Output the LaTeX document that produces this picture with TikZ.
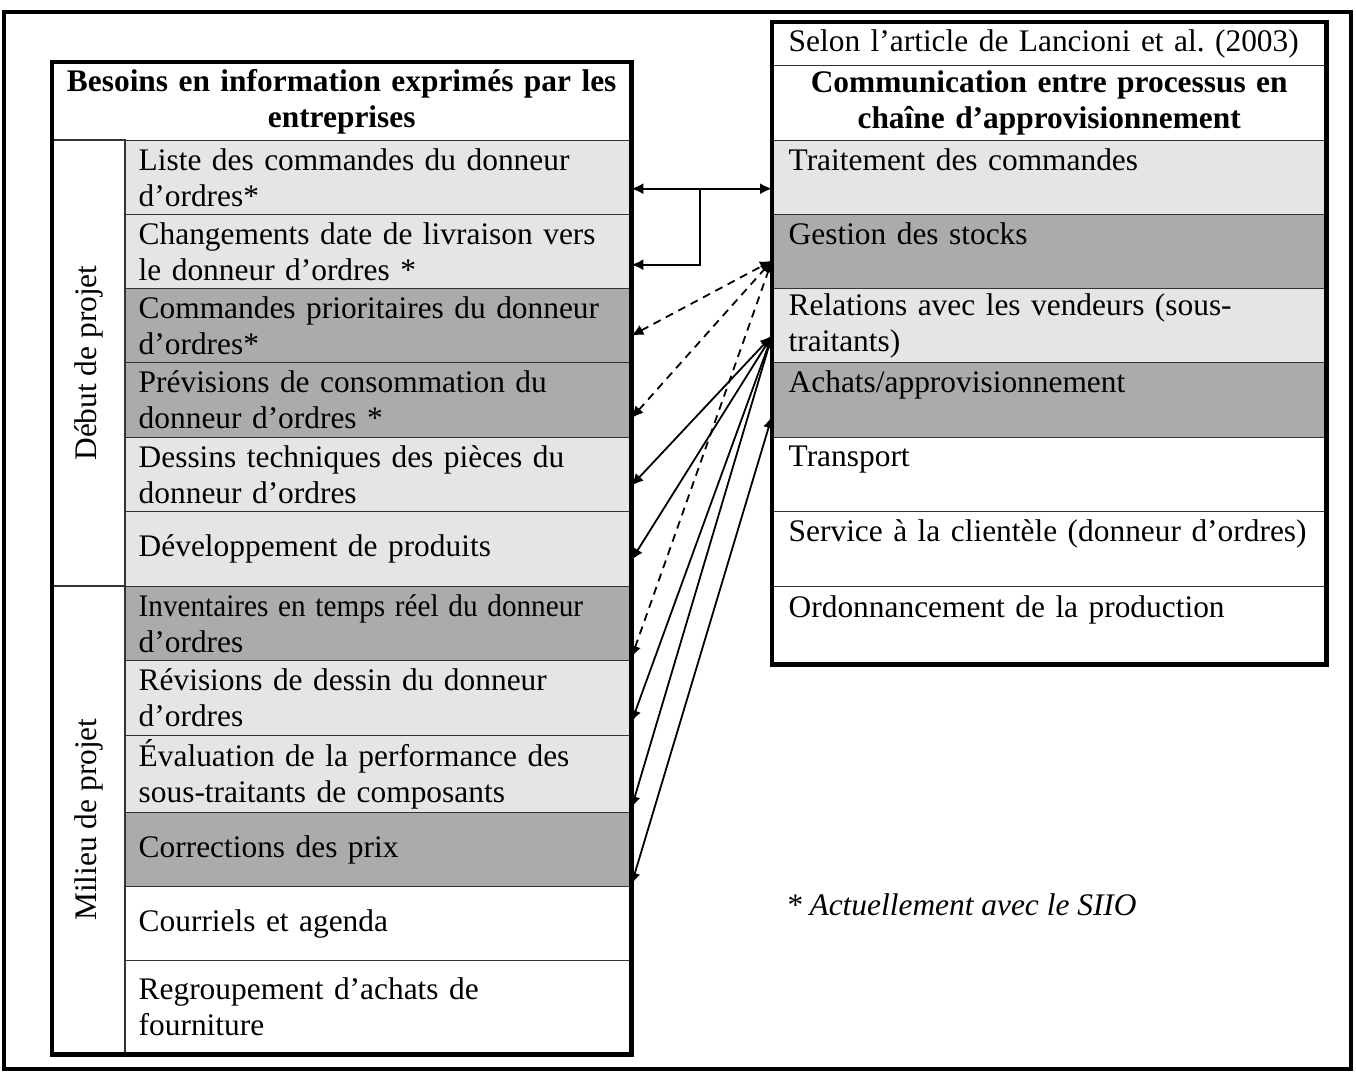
\documentclass[tikz,border=0pt]{standalone}
\usepackage{fontspec}
\setmainfont{Liberation Serif}
\usetikzlibrary{arrows.meta}
\definecolor{paleGray}{gray}{0.9}
\definecolor{deepGray}{gray}{0.67}

\begin{document}
\begin{tikzpicture}[x=0.5pt, y=-0.5pt,
  txt/.style={font=\fontsize{15.7}{18}\selectfont},
  cell/.style={txt, draw=black!80, line width=0.7pt, anchor=north west, inner xsep=6.5pt, inner ysep=0pt, align=left},
  lrow/.style={cell, text width=239.5pt},
  rrow/.style={cell, inner xsep=8pt, text width=260.5pt},
  side/.style={txt, draw=black!80, line width=0.7pt, rotate=90, inner sep=0pt, minimum height=36.5pt},
  pale/.style={fill=paleGray}, deep/.style={fill=deepGray},
  link/.style={{Latex[length=6pt,width=5.5pt]}-{Latex[length=6pt,width=5.5pt]}, line width=0.9pt},
  dlink/.style={link, dash pattern=on 4pt off 3pt}]
\useasboundingbox (0,0) rectangle (1356,1073);
\draw[line width=1.6pt] (4,12) rectangle (1351,1069);

\node[cell, text width=276pt, align=center, minimum height=39pt, font=\bfseries\fontsize{15.7}{18}\selectfont] (besoins) at (52,62) {\mbox{Besoins en information exprimés par les}\\entreprises};
\node[side, minimum width=223pt] (debut) at (88.5,363) {Début de projet};
\node[side, minimum width=233.5pt] (milieu) at (88.5,819.5) {Milieu de projet};
\node[lrow, pale, minimum height=37pt] (liste) at (125,140) {\mbox{Liste des commandes du donneur}\\d’ordres*};
\node[lrow, pale, minimum height=37pt] (chang) at (125,214) {\mbox{Changements date de livraison vers}\\le donneur d’ordres *};
\node[lrow, deep, minimum height=37pt] (prio) at (125,288) {\mbox{Commandes prioritaires du donneur}\\d’ordres*};
\node[lrow, deep, minimum height=37.5pt] (prev) at (125,362) {\mbox{Prévisions de consommation du}\\donneur d’ordres *};
\node[lrow, pale, minimum height=37pt] (dess) at (125,437) {\mbox{Dessins techniques des pièces du}\\donneur d’ordres};
\node[lrow, pale, minimum height=37.5pt] (devel) at (125,511) {Développement de produits};
\node[lrow, deep, minimum height=37pt] (inv) at (125,586) {\scalebox{0.93}[1]{Inventaires en temps réel du donneur}\\d’ordres};
\node[lrow, pale, minimum height=37.5pt] (revis) at (125,660) {\mbox{Révisions de dessin du donneur}\\d’ordres};
\node[lrow, pale, minimum height=38.5pt] (eval) at (125,735) {\mbox{Évaluation de la performance des}\\\mbox{sous-traitants de composants}};
\node[lrow, deep, minimum height=37pt] (corr) at (125,812) {Corrections des prix};
\node[lrow, minimum height=37pt] (cour) at (125,886) {Courriels et agenda};
\node[lrow, minimum height=46.5pt] (regr) at (125,960) {\mbox{Regroupement d’achats de}\\fourniture};
\draw[line width=2.2pt] (besoins.north west) rectangle (regr.south east);

\node[rrow, minimum height=21.5pt] (selon) at (772,22) {\mbox{Selon l’article de Lancioni et al.\ (2003)}};
\node[rrow, align=center, minimum height=37.5pt, font=\bfseries\fontsize{15.7}{18}\selectfont] (chaine) at (772,65) {\mbox{Communication entre processus en}\\chaîne d’approvisionnement};
\node[rrow, pale, minimum height=37pt] (trait) at (772,140) {Traitement des commandes\\[-5pt]\strut};
\node[rrow, deep, minimum height=37pt] (gest) at (772,214) {Gestion des stocks\\[-5pt]\strut};
\node[rrow, pale, minimum height=37pt] (rel) at (772,288) {\mbox{Relations avec les vendeurs (sous-}\\traitants)};
\node[rrow, deep, minimum height=37.5pt] (ach) at (772,362) {Achats/approvisionnement\\[-5pt]\strut};
\node[rrow, minimum height=37pt] (transp) at (772,437) {Transport\\[-5pt]\strut};
\node[rrow, minimum height=37.5pt] (serv) at (772,511) {\mbox{Service à la clientèle (donneur d’ordres)}\\[-5pt]\strut};
\node[rrow, minimum height=38.5pt] (ordo) at (772,586) {Ordonnancement de la production\\[-5pt]\strut};
\draw[line width=2.2pt] (selon.north west) rectangle (ordo.south east);

\node[anchor=west, font={\itshape\fontsize{15.7}{18}\selectfont}] (note) at (779,905) {* Actuellement avec le SIIO};

\coordinate (split) at (700,188);
\draw[link] ([yshift=-5.5pt]liste.east) -- ([yshift=-5.5pt]trait.west);
\draw[-{Latex[length=6pt,width=5.5pt]}, line width=0.9pt] (split) |- ([yshift=-6.5pt]chang.east);
\foreach \n/\s in {prio/-5pt, prev/-9pt, inv/-17pt}
  {\draw[dlink] ([yshift=\s]\n.east) -- ([yshift=-4.5pt]gest.west);}
\foreach \n/\s in {dess/-5.5pt, devel/-5.5pt, revis/-12pt, eval/-17pt}
  {\draw[link] ([yshift=\s]\n.east) -- ([yshift=-5pt]rel.west);}
\draw[link] ([yshift=-17.5pt]corr.east) -- ([yshift=-8pt]ach.west);
\end{tikzpicture}
\end{document}
